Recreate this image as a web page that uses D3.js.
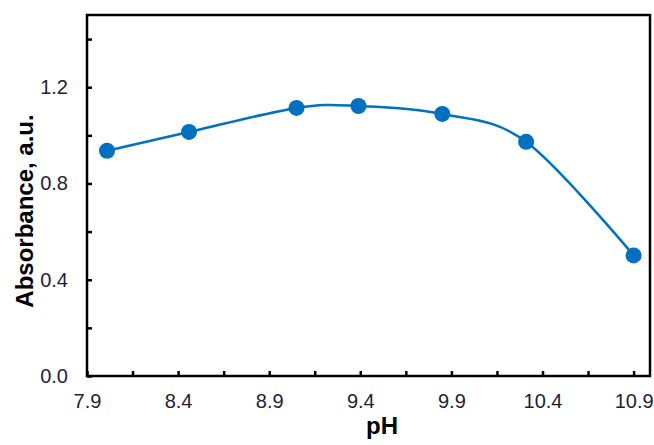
<!DOCTYPE html>
<html>
<head>
<meta charset="utf-8">
<script src="https://cdn.jsdelivr.net/npm/d3@7"></script>
<style>
  body { margin: 0; background: #fff; }
  .tick text { font-family: Arial, "Liberation Sans", sans-serif; font-size: 20px; fill: #1e1e38; }
  .aText { font-family: Arial, "Liberation Sans", sans-serif; font-weight: bold; font-size: 24px; fill: #000; }
</style>
</head>
<body>
<div id="chart"></div>
<script>
// data
var pH = [8.01, 8.46, 9.05, 9.39, 9.85, 10.31, 10.9];
var absorbance = [0.936, 1.014, 1.114, 1.122, 1.089, 0.973, 0.501];
var xTickLabels = [7.9, 8.4, 8.9, 9.4, 9.9, 10.4, 10.9];
var yTickLabels = [0.0, 0.4, 0.8, 1.2];

var svgWidth = 654;
var svgHeight = 445;

var margin = { top: 15, right: 4, bottom: 69, left: 87 };
var width = svgWidth - margin.left - margin.right;
var height = svgHeight - margin.top - margin.bottom;

var svg = d3.select("#chart")
    .append("svg")
    .attr("width", svgWidth)
    .attr("height", svgHeight);

var chartGroup = svg.append("g")
    .attr("transform", `translate(${margin.left}, ${margin.top})`);

var data = pH.map(function(d, i) { return { ph: d, abs: absorbance[i] }; });

// scales
var xScale = d3.scaleLinear().domain([7.9, 10.99]).range([0, width]);
var yScale = d3.scaleLinear().domain([0, 1.5]).range([height, 0]);

// minor ticks (inside, no labels)
var xMinor = d3.range(7.9, 10.95, 0.25);
var yMinor = d3.range(0, 1.45, 0.2);

chartGroup.append("g")
    .attr("transform", `translate(0, ${height})`)
    .call(d3.axisBottom(xScale).tickValues(xMinor).tickSize(-5).tickFormat(""))
    .call(g => g.select(".domain").remove())
    .selectAll("line").attr("stroke", "#000").attr("stroke-width", 2.5);

chartGroup.append("g")
    .call(d3.axisLeft(yScale).tickValues(yMinor).tickSize(-5).tickFormat(""))
    .call(g => g.select(".domain").remove())
    .selectAll("line").attr("stroke", "#000").attr("stroke-width", 2.5);

// labelled ticks
chartGroup.append("g")
    .attr("transform", `translate(0, ${height})`)
    .call(d3.axisBottom(xScale).tickValues(xTickLabels).tickSize(0).tickPadding(18).tickFormat(d3.format(".1f")))
    .call(g => g.select(".domain").remove());

chartGroup.append("g")
    .call(d3.axisLeft(yScale).tickValues(yTickLabels).tickSize(0).tickPadding(19).tickFormat(d3.format(".1f")))
    .call(g => g.select(".domain").remove());

// frame
chartGroup.append("rect")
    .attr("x", 0)
    .attr("y", 0)
    .attr("width", width)
    .attr("height", height)
    .attr("fill", "none")
    .attr("stroke", "#000")
    .attr("stroke-width", 2.5);

// smoothed line
var line = d3.line()
    .x(d => xScale(d.ph))
    .y(d => yScale(d.abs))
    .curve(d3.curveCatmullRom.alpha(0));

chartGroup.append("path")
    .datum(data)
    .attr("d", line)
    .attr("fill", "none")
    .attr("stroke", "#0070c0")
    .attr("stroke-width", 2.5);

chartGroup.selectAll("circle")
    .data(data)
    .enter()
    .append("circle")
    .attr("cx", d => xScale(d.ph))
    .attr("cy", d => yScale(d.abs))
    .attr("r", 8)
    .attr("fill", "#0070c0");

// axis titles
chartGroup.append("text")
    .attr("transform", "rotate(-90)")
    .attr("x", -(211 - margin.top))
    .attr("y", -margin.left + 33)
    .attr("text-anchor", "middle")
    .attr("class", "aText")
    .text("Absorbance, a.u.");

chartGroup.append("text")
    .attr("x", 382 - margin.left)
    .attr("y", height + 58)
    .attr("text-anchor", "middle")
    .attr("class", "aText")
    .text("pH");
</script>
</body>
</html>
